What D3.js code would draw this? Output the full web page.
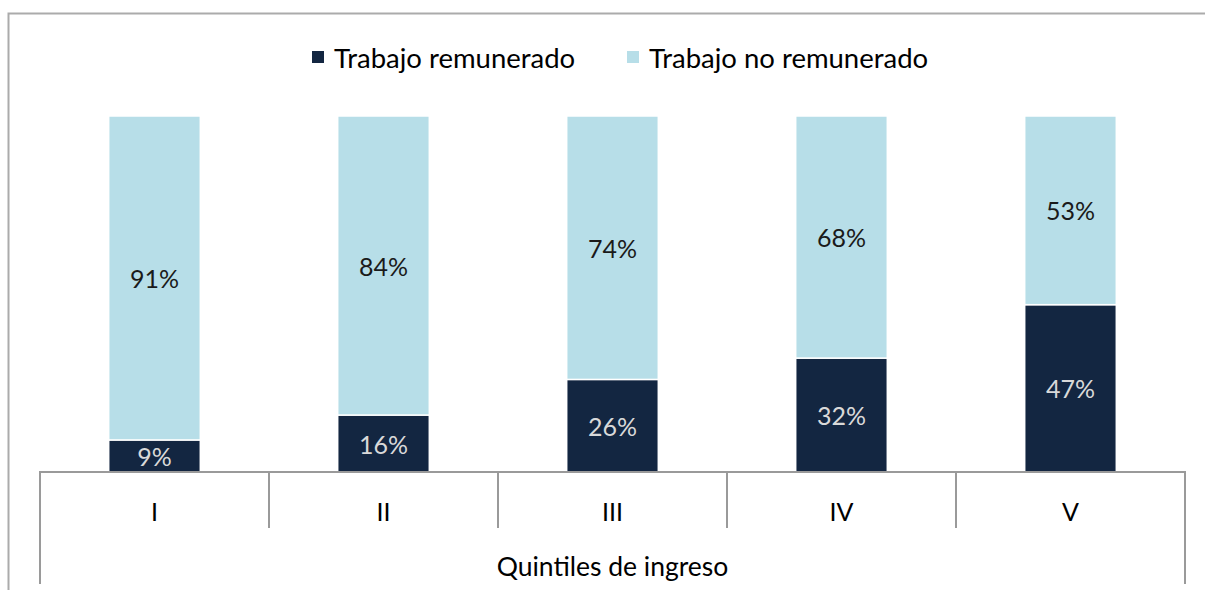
<!DOCTYPE html>
<html>
<head>
<meta charset="utf-8">
<script src="https://cdn.jsdelivr.net/npm/d3@7"></script>
<style>
  html, body { margin: 0; padding: 0; background: #fff; }
  svg { display: block; font-family: Lato, "Open Sans", sans-serif; }
</style>
</head>
<body>
<svg class="canvas" width="1205" height="590"></svg>
<script>
// chart data
const categories = ["I", "II", "III", "IV", "V"];
const remunerado = [9, 16, 26, 32, 47];
const noRemunerado = [91, 84, 74, 68, 53];
const seriesNames = ["Trabajo remunerado", "Trabajo no remunerado"];
const axisTitle = "Quintiles de ingreso";

const colors = ["#132641", "#b7dee8"];
const labelColors = ["#d9d9d9", "#1a1a1a"];

const svg = d3.select(".canvas");

// outer frame
svg.append("rect")
  .attr("x", 8.5).attr("y", 13.5)
  .attr("width", 1210).attr("height", 600)
  .attr("fill", "none")
  .attr("stroke", "#ababab")
  .attr("stroke-width", 2);

const rows = categories.map((c, i) => ({
  cat: c,
  rem: remunerado[i],
  norem: noRemunerado[i]
}));
const stack = d3.stack().keys(["rem", "norem"]);
const series = stack(rows);

// scales
const xScale = d3.scaleBand()
  .domain(categories)
  .range([40, 1185])
  .paddingInner(0.6)
  .paddingOuter(0.3);
const yScale = d3.scaleLinear()
  .domain([0, 100])
  .range([472, 116]);

// bars
const groups = svg.selectAll("g.series")
  .data(series)
  .enter()
  .append("g")
  .attr("class", "series")
  .attr("fill", (d, i) => colors[i]);

groups.selectAll("rect")
  .data((d) => d)
  .enter()
  .append("rect")
  .attr("x", (d) => xScale(d.data.cat))
  .attr("width", xScale.bandwidth())
  .attr("y", (d) => yScale(d[1]))
  .attr("height", (d) => yScale(d[0]) - yScale(d[1]))
  .attr("stroke", "#fff")
  .attr("stroke-width", 1.5);

// data labels
series.forEach((s, si) => {
  svg.append("g")
    .selectAll("text")
    .data(s)
    .enter()
    .append("text")
    .attr("x", (d) => xScale(d.data.cat) + xScale.bandwidth() / 2)
    .attr("y", (d) => (yScale(d[0]) + yScale(d[1])) / 2)
    .attr("text-anchor", "middle")
    .attr("dominant-baseline", "central")
    .attr("font-size", 25)
    .attr("fill", labelColors[si])
    .text((d) => (d[1] - d[0]) + "%");
});

// x axis with category boxes
const axisColor = "#9a9a9a";
const xAxis = svg.append("g");
xAxis.append("line")
  .attr("x1", 40).attr("x2", 1185)
  .attr("y1", 472).attr("y2", 472)
  .attr("stroke", axisColor).attr("stroke-width", 2);
const bounds = categories.map((c) => xScale(c) - xScale.step() * xScale.paddingInner() / 2);
bounds.push(1185);
xAxis.selectAll("line.tick")
  .data(bounds)
  .enter()
  .append("line")
  .attr("class", "tick")
  .attr("x1", (d) => d).attr("x2", (d) => d)
  .attr("y1", 471)
  .attr("y2", (d, i) => (i === 0 || i === bounds.length - 1 ? 584 : 528))
  .attr("stroke", axisColor).attr("stroke-width", 2);

xAxis.selectAll("text.cat")
  .data(categories)
  .enter()
  .append("text")
  .attr("class", "cat")
  .attr("x", (d) => xScale(d) + xScale.bandwidth() / 2)
  .attr("y", 511)
  .attr("text-anchor", "middle")
  .attr("dominant-baseline", "central")
  .attr("font-size", 25)
  .attr("fill", "#000")
  .text((d) => d);

svg.append("text")
  .attr("x", (40 + 1185) / 2)
  .attr("y", 566)
  .attr("text-anchor", "middle")
  .attr("dominant-baseline", "central")
  .attr("font-size", 26.5)
  .attr("fill", "#000")
  .text(axisTitle);

// legend
const legendX = [312, 627];
const legend = svg.append("g");
seriesNames.forEach((name, i) => {
  legend.append("rect")
    .attr("x", legendX[i]).attr("y", 51)
    .attr("width", 12).attr("height", 12)
    .attr("fill", colors[i]);
  legend.append("text")
    .attr("x", legendX[i] + 22)
    .attr("y", 57)
    .attr("dominant-baseline", "central")
    .attr("font-size", 27.5)
    .attr("fill", "#000")
    .text(name);
});
</script>
</body>
</html>
